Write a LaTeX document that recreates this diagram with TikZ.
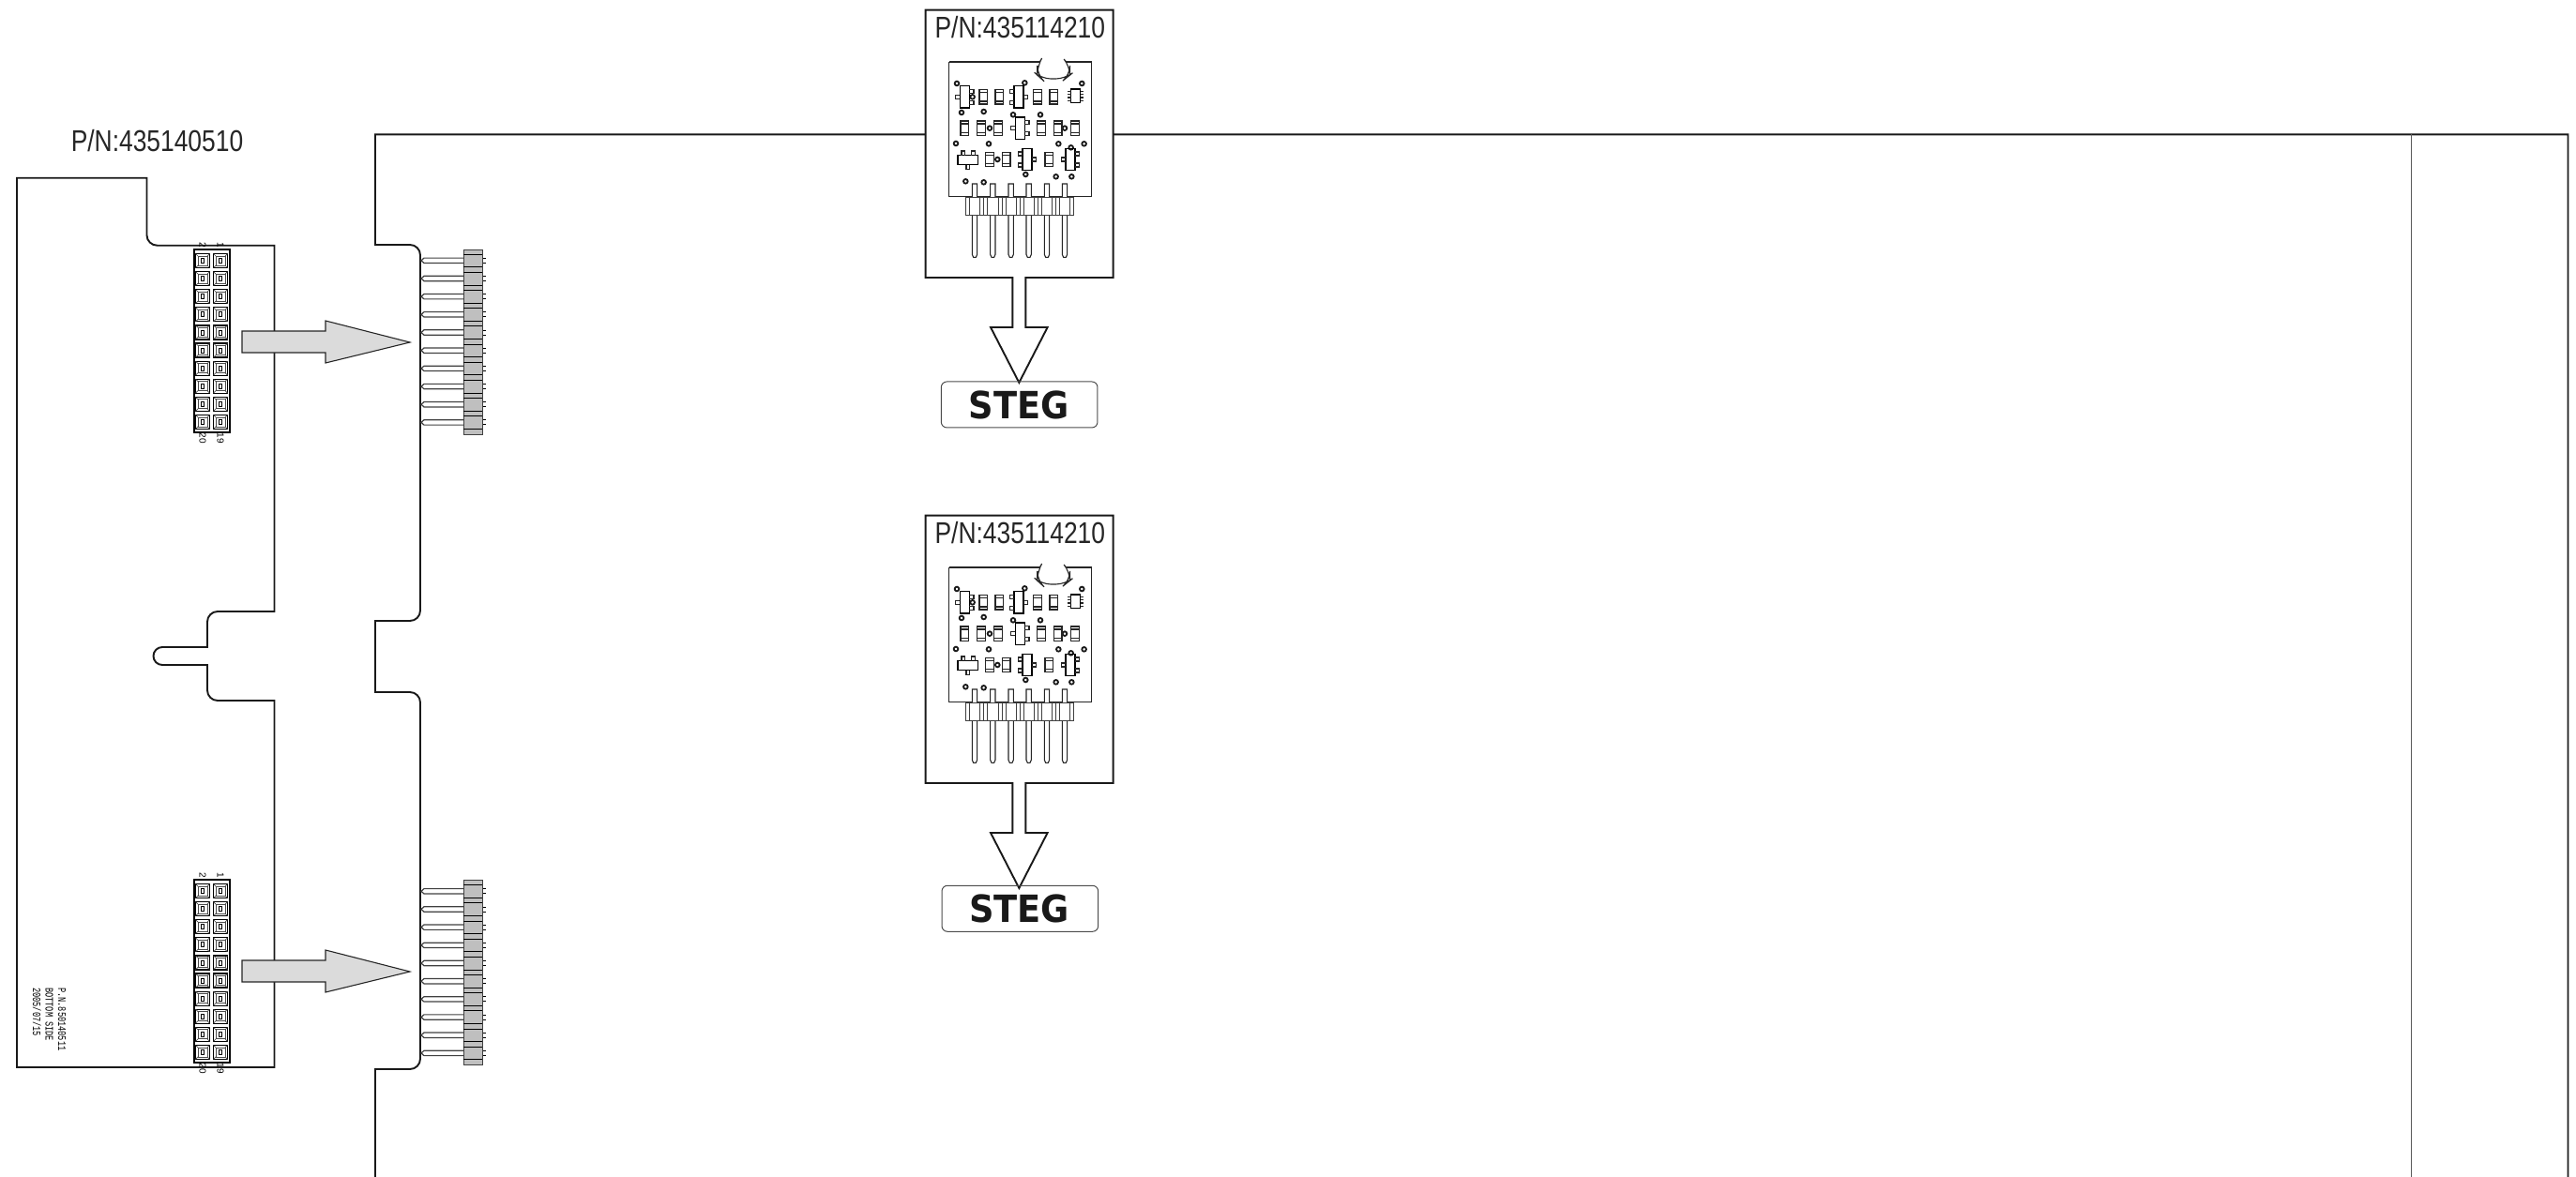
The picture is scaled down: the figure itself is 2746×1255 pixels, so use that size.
\documentclass[tikz,border=0pt]{standalone}
\usepackage{fontspec}
\setmainfont{Liberation Sans}
\newfontfamily\monoface{Liberation Mono}
\newfontfamily\stegface{DejaVu Sans}
\tikzset{
  outline/.style={line width=1.9pt,color=black!90,line join=miter},
  thin part/.style={line width=1.1pt,color=black!85},
  ring/.style={line width=1.8pt,color=black!90},
  wide arrow/.style={line width=1.1pt,color=black!85,fill=black!14},
  pn label/.style={font=\fontsize{32}{32}\selectfont,xscale=0.825,color=black!85,inner sep=0pt},
  pin label/.style={font=\fontsize{10}{10}\selectfont,rotate=-90,inner sep=0pt},
  side label/.style={font=\monoface\fontsize{12}{12}\selectfont,rotate=-90,xscale=0.72,anchor=west,inner sep=0pt},
  steg label/.style={font=\stegface\fontsize{40}{40}\selectfont\bfseries,xscale=0.92,color=black!90,inner sep=0pt}
}
\begin{document}
\begin{tikzpicture}[x=1pt,y=-1pt]
  \useasboundingbox (0,0) rectangle (2746,1255);
  \draw[outline] (400,1255) -- (400,1140) -- (437,1140) arc (90:0:11) -- (448,749) arc (0:-90:11) -- (400,738) -- (400,662) -- (437,662) arc (90:0:11) -- (448,272) arc (0:-90:11) -- (400,261) -- (400,143.3) -- (2737.5,143.3) -- (2737.5,1255);
  \draw[line width=1.2pt,color=black!65] (2570.7,143.3) -- (2570.7,1255);
  \draw[outline] (18,1138) -- (18,189.7) -- (156.5,189.7) -- (156.5,250.7) arc (180:90:11) -- (292.5,261.7) -- (292.5,652) -- (232,652) arc (-90:-180:11) -- (221,690) -- (173,690) arc (-90:-270:9.5) -- (221,709) -- (221,736) arc (180:90:11) -- (292.5,747) -- (292.5,1138) -- cycle;
  \node[pn label] (pnboard) at (167.5,150) {P/N:435140510};
  \foreach \dy in {0,672} {
    \begin{scope}[shift={(0pt,-\dy pt)}]
      \draw[line width=1.8pt,fill=white] (207,266) rectangle (245,461);
      \foreach \r in {0,...,9} {
        \foreach \cx in {216,235} {
          \pgfmathsetmacro{\cy}{278+19.1*\r}
          \draw[line width=1.2pt] (\cx-7.5,\cy-7.5) rectangle (\cx+7.5,\cy+7.5);
          \draw[line width=0.7pt,color=black!70] (\cx-5,\cy-5) rectangle (\cx+5,\cy+5);
          \draw[line width=0.7pt,color=black!70] (\cx-7.5,\cy-7.5) -- (\cx-5,\cy-5) (\cx+7.5,\cy-7.5) -- (\cx+5,\cy-5) (\cx-7.5,\cy+7.5) -- (\cx-5,\cy+5) (\cx+7.5,\cy+7.5) -- (\cx+5,\cy+5);
          \draw[line width=0.8pt] (\cx-1.5,\cy-2.5) rectangle (\cx+1.5,\cy+2.5);
        }
      }
      \node[pin label] (pintwo\dy) at (216,261) {2};
      \node[pin label] (pinone\dy) at (235,261) {1};
      \node[pin label] (pintwenty\dy) at (216,467) {20};
      \node[pin label] (pinnineteen\dy) at (235,467) {19};
    \end{scope}
  }
  \node[side label] (sideone) at (66,1053) {P.N.850140511};
  \node[side label] (sidetwo) at (52.7,1053) {BOTTOM SIDE};
  \node[side label] (sidethree) at (39.3,1053) {2005/07/15};
  \foreach \dy in {0,671}
    \draw[wide arrow,shift={(0pt,-\dy pt)}] (258,353) -- (347,353) -- (347,342) -- (437,365) -- (347,387) -- (347,376) -- (258,376) -- cycle;
  \foreach \dy in {0,672.5} {
    \begin{scope}[shift={(0pt,-\dy pt)}]
      \foreach \r in {0,...,9} {
        \pgfmathsetmacro{\py}{277.8+19.18*\r}
        \draw[line width=1.2pt,color=black!75] (494,\py-2.7) -- (452,\py-2.7) -- (449,\py) -- (452,\py+2.7) -- (494,\py+2.7);
        \draw[line width=0.9pt] (514,\py-2.5) -- (517.5,\py-2.5) (514,\py+2.5) -- (517.5,\py+2.5);
      }
      \draw[line width=1pt,color=black!75,fill=black!25] (494.3,266) rectangle (514.3,463);
      \foreach \r in {0,...,9} {
        \pgfmathsetmacro{\py}{277.8+19.18*\r}
        \draw[line width=0.9pt] (494.3,\py-6.7) -- (514.3,\py-6.7) (494.3,\py+7) -- (514.3,\py+7);
      }
    \end{scope}
  }
  \foreach \dy/\sx/\so in {0/0/0,539/2/-5} {
    \begin{scope}[shift={(960pt,-\dy pt)},x=0.3333pt,y=-0.3333pt]
      \draw[outline,fill=white] (80,32) -- (680,32) -- (680,888) -- (400,888) -- (400,1047) -- (470,1047) -- (379,1224) -- (288,1047) -- (358,1047) -- (358,888) -- (80,888) -- cycle;
      \node[pn label] (pnmodule\dy) at (382,88) {P/N:435114210};
      \draw[thin part] (155,198) -- (155,628) -- (610,628) -- (610,198) -- (530,198) (445,198) -- (155,198);
      \draw[thin part,rounded corners=10pt] (445,198) -- (437,212) -- (437,240) -- (450,252) -- (527,252) -- (542,240) -- (542,212) -- (530,198);
      \foreach \hx/\hy in {180/267,397/265,580/267,230/310,195/360,266/357,360/367,447/367,285/410,525/410,177/459,282/460,505/460,587/460,545/472,310/510,400/558,208/580,266/583,497/565,547/565}
        \draw[ring] (\hx,\hy) circle (7);
      \foreach \cx/\cy in {265/310,316/310,438/310,490/310,205/410,258/410,312/410,450/410,503/410,558/410,285/510,338/510,475/510} {
        \draw[thin part] (\cx-13,\cy-23) rectangle (\cx+13,\cy+23);
        \draw[thin part] (\cx-13,\cy-14) -- (\cx+13,\cy-14) (\cx-13,\cy+14) -- (\cx+13,\cy+14);
      }
      \foreach \px/\py/\pl in {205/310/1,378/310/2,382/410/1,405/510/2,543/510/1} {
        \draw[line width=1.5pt] (\px-15,\py-35) rectangle (\px+15,\py+35);
        \ifnum\pl=1
          \draw[thin part] (\px-15,\py-6) -- (\px-29,\py-6) -- (\px-29,\py+6) -- (\px-15,\py+6);
          \draw[thin part] (\px+15,\py-24) -- (\px+29,\py-24) -- (\px+29,\py-12) -- (\px+15,\py-12) (\px+15,\py+12) -- (\px+29,\py+12) -- (\px+29,\py+24) -- (\px+15,\py+24);
        \else
          \draw[thin part] (\px+15,\py-6) -- (\px+29,\py-6) -- (\px+29,\py+6) -- (\px+15,\py+6);
          \draw[thin part] (\px-15,\py-24) -- (\px-29,\py-24) -- (\px-29,\py-12) -- (\px-15,\py-12) (\px-15,\py+12) -- (\px-29,\py+12) -- (\px-29,\py+24) -- (\px-15,\py+24);
        \fi
      }
      \draw[line width=1.5pt] (183,497) rectangle (248,527);
      \draw[thin part] (195,497) -- (195,483) -- (206,483) -- (206,497) (227,497) -- (227,483) -- (238,483) -- (238,497) (210,527) -- (210,541) -- (221,541) -- (221,527);
      \draw[line width=1.3pt] (545,285) rectangle (575,328);
      \foreach \iy in {292,302,312,322}
        \draw[thin part] (535,\iy) -- (545,\iy) (575,\iy) -- (585,\iy);
      \foreach \px in {237,295,353,410,468,525} {
        \draw[thin part,fill=white] (\px-8,588) -- (\px-8,814) -- (\px-4,823) -- (\px+4,823) -- (\px+8,814) -- (\px+8,588) -- cycle;
        \draw[line width=0.9pt,color=black!75,fill=white] (\px-29,630) rectangle (\px+29,688);
        \draw[line width=0.9pt,color=black!75] (\px-17,630) -- (\px-17,688) (\px+17,630) -- (\px+17,688);
      }
      \draw[line width=1pt,color=black!70,rounded corners=6pt] (130+\sx,1221+\so) rectangle (630+\sx,1368+\so);
      \node[steg label] (steg\dy) at (378+\sx,1296+\so) {STEG};
    \end{scope}
  }
\end{tikzpicture}
\end{document}
